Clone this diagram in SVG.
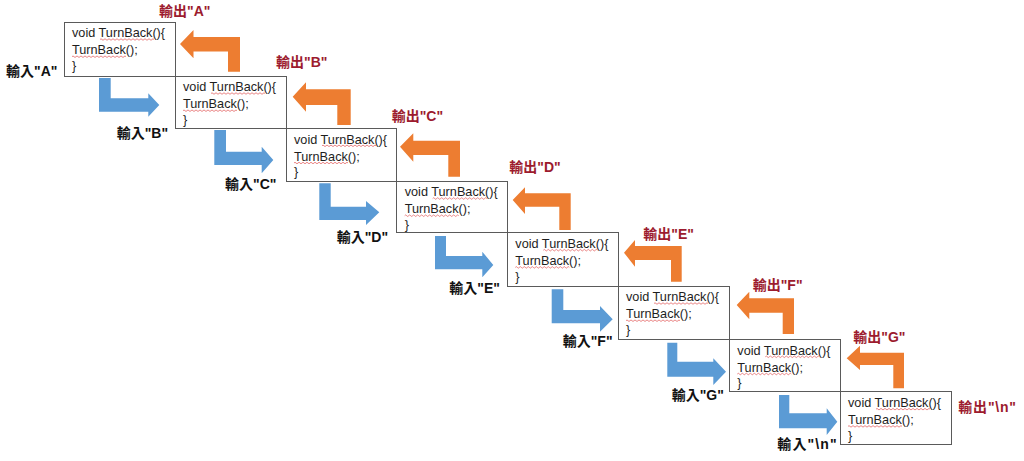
<svg xmlns="http://www.w3.org/2000/svg" xmlns:xlink="http://www.w3.org/1999/xlink" width="1024" height="461" viewBox="0 0 1024 461">
<style>
.box{fill:#fff;stroke:#5a5a5a;stroke-width:1}
.code{font-family:"Liberation Sans",sans-serif;font-size:12.7px;fill:#1e1e1e}
.out{font-family:"Liberation Sans","Noto Sans CJK TC",sans-serif;font-size:14px;font-weight:bold;fill:#9c1b2e}
.in{font-family:"Liberation Sans","Noto Sans CJK TC",sans-serif;font-size:14px;font-weight:bold;fill:#111}
.orange{fill:#ed7d31}
.blue{fill:#5b9bd5}
.wave{fill:none;stroke:#e05050;stroke-width:0.7}
</style>
<defs>
<path id="sq" class="wave" d="M0,0 q1,-1.5 2,0 t2,0 t2,0 t2,0 t2,0 t2,0 t2,0 t2,0 t2,0 t2,0 t2,0 t2,0 t2,0 t2,0 t2,0 t2,0 t2,0 t2,0 t2,0 t2,0 t2,0 t2,0 t2,0 t2,0 t2,0 t2,0 t2,0"/>
<g id="code">
<text class="code" x="8" y="15.3">void TurnBack(){</text>
<text class="code" x="8" y="32.3">TurnBack();</text>
<text class="code" x="8" y="48">}</text>
<use xlink:href="#sq" x="36" y="17.5"/>
<use xlink:href="#sq" x="8" y="34.7"/>
</g>
</defs>
<rect width="1024" height="461" fill="#fff"/>

<g id="connectors">
<polygon class="orange" points="180,44 193.5,30 193.5,37 240,37 240,71.7 228,71.7 228,51.5 193.5,51.5 193.5,58.3"/>
<polygon class="orange" points="292.7,96.7 306,82.3 306,89.3 350.7,89.3 350.7,125 337.3,125 337.3,105 306,105 306,111.7"/>
<polygon class="orange" points="400,146.7 413.3,133.3 413.3,140.7 460,140.7 460,176.7 448.3,176.7 448.3,155 413.3,155 413.3,161.7"/>
<polygon class="orange" points="512.7,200 525,187.3 525,193.3 570.7,193.3 570.7,230 559.3,230 559.3,206.7 525,206.7 525,214"/>
<polygon class="orange" points="624,252.7 635,240 635,246 681.7,246 681.7,281.7 671,281.7 671,260 635,260 635,266.7"/>
<polygon class="orange" points="736.7,305 749.3,291.7 749.3,298.3 794,298.3 794,334 782.7,334 782.7,312.7 749.3,312.7 749.3,319.3"/>
<polygon class="orange" points="846.7,358.3 860,345.7 860,352.7 904,352.7 904,388.3 893.3,388.3 893.3,365 860,365 860,370"/>

<polygon class="blue" points="99,78 110.7,78 110.7,98.3 148.3,98.3 148.3,93.3 159.3,105 148.3,116.7 148.3,111.7 99,111.7"/>
<polygon class="blue" points="214.3,130 226,130 226,151.7 261.7,151.7 261.7,146.7 273.3,160 261.7,173.3 261.7,165 214.3,165"/>
<polygon class="blue" points="319.3,183.3 330.7,183.3 330.7,206.7 366,206.7 366,201 379.3,212.3 366,225 366,220 319.3,220"/>
<polygon class="blue" points="435,236 446,236 446,256 482.3,256 482.3,251.7 493.3,265 482.3,277.3 482.3,269.3 435,269.3"/>
<polygon class="blue" points="551.7,289.3 563.3,289.3 563.3,310 600,310 600,306 612.7,319.3 600,331.7 600,323.3 551.7,323.3"/>
<polygon class="blue" points="667.3,342.7 677.3,342.7 677.3,361.7 713.3,361.7 713.3,358.3 726,371.7 713.3,385 713.3,376.7 667.3,376.7"/>
<polygon class="blue" points="779,395 789.3,395 789.3,413.3 826.7,413.3 826.7,408.3 837.3,421.7 826.7,435 826.7,428.3 779,428.3"/>
</g>

<g id="n1"><rect class="box" x="64.5" y="22.5" width="111" height="54"/><use xlink:href="#code" transform="translate(64,22)"/></g>
<g id="n2"><rect class="box" x="175.5" y="76.5" width="111" height="52"/><use xlink:href="#code" transform="translate(175,76)"/></g>
<g id="n3"><rect class="box" x="286.5" y="128.5" width="110" height="53"/><use xlink:href="#code" transform="translate(286,128.3)"/></g>
<g id="n4"><rect class="box" x="396.5" y="181.5" width="111" height="51"/><use xlink:href="#code" transform="translate(396.7,181)"/></g>
<g id="n5"><rect class="box" x="507.5" y="232.5" width="111" height="54"/><use xlink:href="#code" transform="translate(507.3,232.7)"/></g>
<g id="n6"><rect class="box" x="618.5" y="286.5" width="111" height="53"/><use xlink:href="#code" transform="translate(618,286)"/></g>
<g id="n7"><rect class="box" x="729.5" y="339.5" width="111" height="52"/><use xlink:href="#code" transform="translate(729.3,339.3)"/></g>
<g id="n8"><rect class="box" x="840.5" y="391.5" width="111" height="53"/><use xlink:href="#code" transform="translate(840,391.7)"/></g>

<g id="labels">
<text class="out" x="159" y="15.5">輸出"A"</text>
<text class="in" x="6" y="76">輸入"A"</text>
<text class="out" x="276" y="67">輸出"B"</text>
<text class="in" x="116.7" y="138">輸入"B"</text>
<text class="out" x="391.7" y="120.5">輸出"C"</text>
<text class="in" x="225" y="188.5">輸入"C"</text>
<text class="out" x="509.3" y="172">輸出"D"</text>
<text class="in" x="336.7" y="241.5">輸入"D"</text>
<text class="out" x="643.3" y="239">輸出"E"</text>
<text class="in" x="449.3" y="293">輸入"E"</text>
<text class="out" x="752.7" y="289.5">輸出"F"</text>
<text class="in" x="562.7" y="346">輸入"F"</text>
<text class="out" x="853.3" y="341.5">輸出"G"</text>
<text class="in" x="671.7" y="399.5">輸入"G"</text>
<text class="out" x="958.3" y="412" textLength="57.7">輸出"\n"</text>
<text class="in" x="777.3" y="448.5" textLength="59.4">輸入"\n"</text>
</g>
</svg>
